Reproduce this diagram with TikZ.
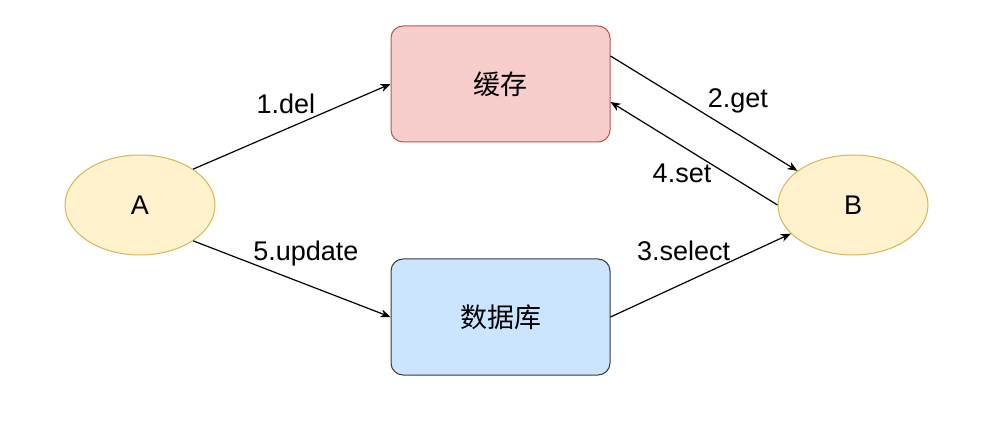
\documentclass[tikz,border=0pt]{standalone}
\usepackage{fontspec}
\setmainfont{Liberation Sans}
\newfontfamily\cjk{Noto Sans CJK SC}
\usepackage{tikz}
\usetikzlibrary{arrows.meta,positioning,shapes.geometric}
\usepackage{xcolor}
\definecolor{redfill}{HTML}{F8CECC}
\definecolor{redline}{HTML}{B85450}
\definecolor{bluefill}{HTML}{CCE5FF}
\definecolor{blueline}{HTML}{36393D}
\definecolor{yelfill}{HTML}{FFF2CC}
\definecolor{yelline}{HTML}{D6B656}

\begin{document}
\begin{tikzpicture}[x=1pt, y=-1pt,
  every node/.style={font=\fontsize{27}{31}\selectfont},
  store/.style={rectangle, rounded corners=12pt, line width=1pt, minimum width=219pt, minimum height=116pt, inner sep=0pt},
  cachebox/.style={store, draw=redline, fill=redfill},
  dbbox/.style={store, draw=blueline, fill=bluefill},
  user/.style={ellipse, draw=yelline, fill=yelfill, line width=1pt, minimum width=150pt, minimum height=100pt, inner sep=0pt},
  arr/.style={-{Stealth[length=10pt, width=8pt, inset=3pt]}, line width=1.2pt, black},
  lab/.style={inner sep=0pt, midway}
]
\useasboundingbox (0,0) rectangle (987,435);
\node[user] (a) at (140,205) {A};
\node[user] (b) at (853,205) {B};
\node[cachebox] (cache) at (500.5,84) {{\cjk 缓存}};
\node[dbbox] (db) at (500.5,317) {{\cjk 数据库}};
\draw[arr] (a.34) -- (cache.west) node[lab, xshift=-6pt, yshift=23pt] {1.del};
\draw[arr] ([yshift=28pt]cache.east) -- (b) node[lab, xshift=34pt, yshift=13pt] {2.get};
\draw[arr] (db.east) -- (b) node[lab, xshift=-17pt, yshift=24pt] {3.select};
\draw[arr] (b.west) -- ([yshift=-18pt]cache.east) node[lab, xshift=-12pt, yshift=-20pt] {4.set};
\draw[arr] (a.-34) -- (db.west) node[lab, xshift=14pt, yshift=25pt] {5.update};
\end{tikzpicture}
\end{document}
